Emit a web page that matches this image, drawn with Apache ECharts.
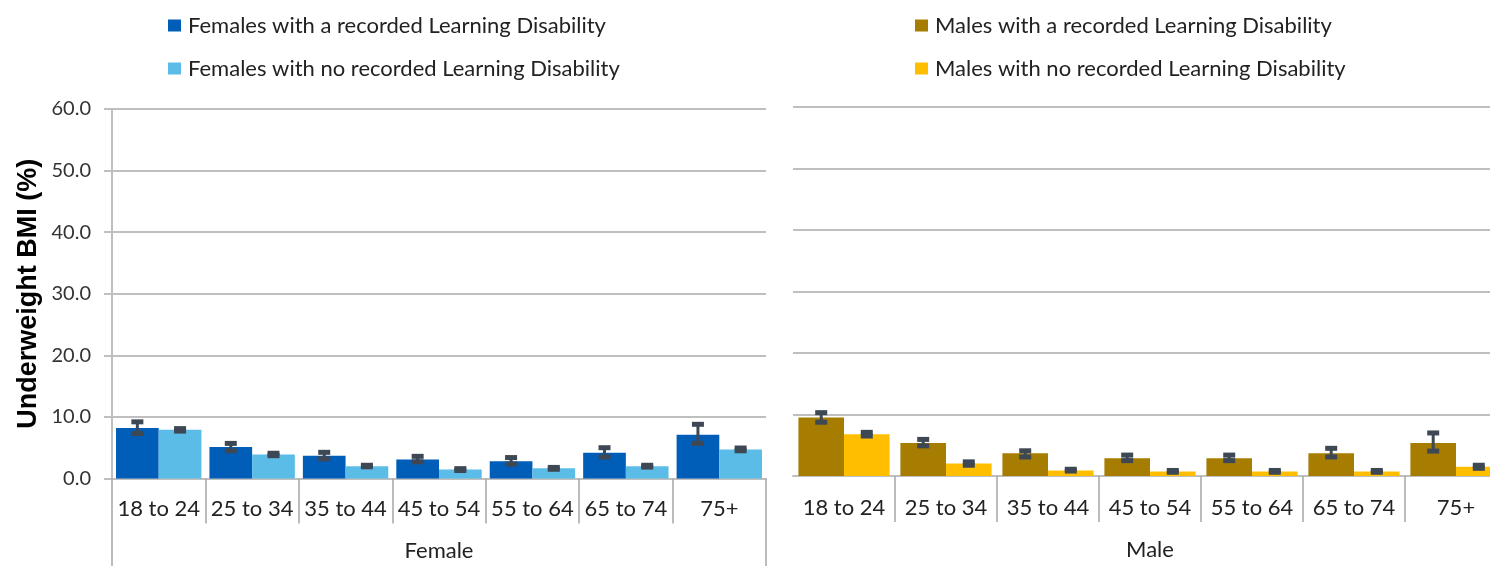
<!DOCTYPE html>
<html>
<head>
<meta charset="utf-8">
<script src="https://cdn.jsdelivr.net/npm/echarts@6/dist/echarts.min.js"></script>
<style>
html,body{margin:0;padding:0;background:#fff;overflow:hidden;width:1490px;height:566px;}
#chart{width:1507px;height:566px;}
</style>
</head>
<body>
<div id="chart"></div>
<script>
const categories = ['18 to 24','25 to 34','35 to 44','45 to 54','55 to 64','65 to 74','75+'];
const yTicks = [0, 10, 20, 30, 40, 50, 60];

const femaleLD      = [8.2, 5.1, 3.7, 3.1, 2.8, 4.2, 7.1];
const femaleLDLow   = [7.3, 4.5, 3.2, 2.7, 2.35, 3.5, 5.7];
const femaleLDHigh  = [9.2, 5.7, 4.25, 3.6, 3.4, 5.0, 8.8];

const femaleNoLD     = [7.9, 3.9, 2.0, 1.45, 1.65, 2.0, 4.7];
const femaleNoLDLow  = [7.7, 3.7, 1.9, 1.3, 1.5, 1.85, 4.5];
const femaleNoLDHigh = [8.1, 4.1, 2.15, 1.6, 1.8, 2.15, 4.95];

const maleLD      = [9.5, 5.35, 3.7, 2.9, 2.9, 3.7, 5.35];
const maleLDLow   = [8.75, 4.9, 3.1, 2.5, 2.5, 3.1, 4.05];
const maleLDHigh  = [10.3, 5.95, 4.1, 3.4, 3.4, 4.5, 7.0];

const maleNoLD     = [6.8, 2.05, 0.9, 0.75, 0.75, 0.75, 1.5];
const maleNoLDLow  = [6.5, 1.75, 0.8, 0.6, 0.6, 0.6, 1.25];
const maleNoLDHigh = [7.1, 2.3, 1.1, 0.9, 0.9, 0.9, 1.75];

const names = {
  fLD: 'Females with a recorded Learning Disability',
  fNo: 'Females with no recorded Learning Disability',
  mLD: 'Males with a recorded Learning Disability',
  mNo: 'Males with no recorded Learning Disability'
};
const panelLabels = ['Female', 'Male'];

const FONT = 'Lato';
const GRID_COLOR = '#BFBFBF';
const ERR_COLOR = '#3E4854';
const gapL = 0.086, gapR = 0.106;

function errSeries(name, lo, hi, xi, yi, side, gap) {
  return {
    name: name, type: 'custom', xAxisIndex: xi, yAxisIndex: yi, z: 10,
    data: lo.map((v, i) => [i, v, hi[i]]),
    renderItem: function (params, api) {
      const idx = api.value(0), l = api.value(1), h = api.value(2);
      const band = api.size([1, 0])[0];
      const bw = band * (1 - gap) / 2;
      const pL = api.coord([idx, l]);
      const pH = api.coord([idx, h]);
      const x = pL[0] + side * bw / 2;
      const capW = 12, capH = 5;
      return {
        type: 'group',
        children: [
          {type: 'line', shape: {x1: x, y1: pL[1], x2: x, y2: pH[1]}, style: {stroke: ERR_COLOR, lineWidth: 3}},
          {type: 'rect', shape: {x: x - capW / 2, y: pH[1] - capH / 2, width: capW, height: capH}, style: {fill: ERR_COLOR}},
          {type: 'rect', shape: {x: x - capW / 2, y: pL[1] - capH / 2, width: capW, height: capH}, style: {fill: ERR_COLOR}}
        ]
      };
    }
  };
}

const chart = echarts.init(document.getElementById('chart'));
const yAxisBase = {
  type: 'value', min: 0, max: 60, interval: 10,
  splitLine: {lineStyle: {color: GRID_COLOR, width: 2}}
};
const legendText = {fontFamily: FONT, fontSize: 22, color: '#222', lineHeight: 23, padding: [0, 0, 0, 2]};
const option = {
  animation: false,
  textStyle: {fontFamily: FONT},
  legend: [
    {
      data: [names.fLD, names.fNo], orient: 'vertical', left: 163, top: 9,
      itemWidth: 13, itemHeight: 12, itemGap: 20,
      icon: 'rect', textStyle: legendText
    },
    {
      data: [names.mLD, names.mNo], orient: 'vertical', left: 910, top: 9,
      itemWidth: 13, itemHeight: 12, itemGap: 20,
      icon: 'rect', textStyle: legendText
    }
  ],
  grid: [
    {left: 112, top: 109, width: 654, bottom: 87.5},
    {left: 793, top: 107, right: 0, bottom: 90}
  ],
  xAxis: [
    {
      type: 'category', gridIndex: 0, data: categories,
      axisLine: {lineStyle: {color: GRID_COLOR, width: 2}},
      axisTick: {show: true, length: 45, lineStyle: {color: '#A6A6A6', width: 1.5}},
      axisLabel: {fontFamily: FONT, fontSize: 22, color: '#222', margin: 19, interval: 0}
    },
    {
      type: 'category', gridIndex: 0, data: [panelLabels[0]], position: 'bottom',
      axisLine: {show: false},
      axisTick: {show: true, length: 88, lineStyle: {color: '#A6A6A6', width: 1.5}},
      axisLabel: {fontFamily: FONT, fontSize: 22, color: '#222', margin: 61}
    },
    {
      type: 'category', gridIndex: 1, data: categories,
      axisLine: {lineStyle: {color: GRID_COLOR, width: 2}},
      axisTick: {show: true, length: 46, interval: function (i) { return i !== 0; }, lineStyle: {color: '#A6A6A6', width: 1.5}},
      axisLabel: {fontFamily: FONT, fontSize: 22, color: '#222', margin: 21, interval: 0}
    },
    {
      type: 'category', gridIndex: 1, data: [panelLabels[1]], position: 'bottom',
      axisLine: {show: false}, axisTick: {show: false},
      axisLabel: {fontFamily: FONT, fontSize: 22, color: '#222', margin: 63}
    }
  ],
  yAxis: [
    Object.assign({}, yAxisBase, {
      gridIndex: 0,
      name: 'Underweight BMI (%)', nameLocation: 'middle', nameGap: 70,
      nameTextStyle: {fontFamily: 'Liberation Sans', fontSize: 27, fontWeight: 'bold', color: '#000'},
      axisLine: {show: true, lineStyle: {color: GRID_COLOR, width: 2}},
      axisTick: {show: true, length: 8, lineStyle: {color: GRID_COLOR, width: 2}},
      axisLabel: {fontFamily: FONT, fontSize: 20, color: '#333', margin: 21,
        formatter: function (v) { return yTicks.indexOf(v) >= 0 ? v.toFixed(1) : ''; }}
    }),
    Object.assign({}, yAxisBase, {
      gridIndex: 1,
      axisLine: {show: false}, axisTick: {show: false}, axisLabel: {show: false}
    })
  ],
  series: [
    {name: names.fLD, type: 'bar', xAxisIndex: 0, yAxisIndex: 0, data: femaleLD, barGap: 0, barCategoryGap: (gapL * 100) + '%', itemStyle: {color: '#005EB8'}},
    {name: names.fNo, type: 'bar', xAxisIndex: 0, yAxisIndex: 0, data: femaleNoLD, barGap: 0, barCategoryGap: (gapL * 100) + '%', itemStyle: {color: '#5BBCE7'}},
    {name: names.mLD, type: 'bar', xAxisIndex: 2, yAxisIndex: 1, data: maleLD, barGap: 0, barCategoryGap: (gapR * 100) + '%', itemStyle: {color: '#A67D00'}},
    {name: names.mNo, type: 'bar', xAxisIndex: 2, yAxisIndex: 1, data: maleNoLD, barGap: 0, barCategoryGap: (gapR * 100) + '%', itemStyle: {color: '#FFBF00'}},
    errSeries('errFLD', femaleLDLow, femaleLDHigh, 0, 0, -1, gapL),
    errSeries('errFNo', femaleNoLDLow, femaleNoLDHigh, 0, 0, 1, gapL),
    errSeries('errMLD', maleLDLow, maleLDHigh, 2, 1, -1, gapR),
    errSeries('errMNo', maleNoLDLow, maleNoLDHigh, 2, 1, 1, gapR)
  ]
};
chart.setOption(option);
</script>
</body>
</html>
